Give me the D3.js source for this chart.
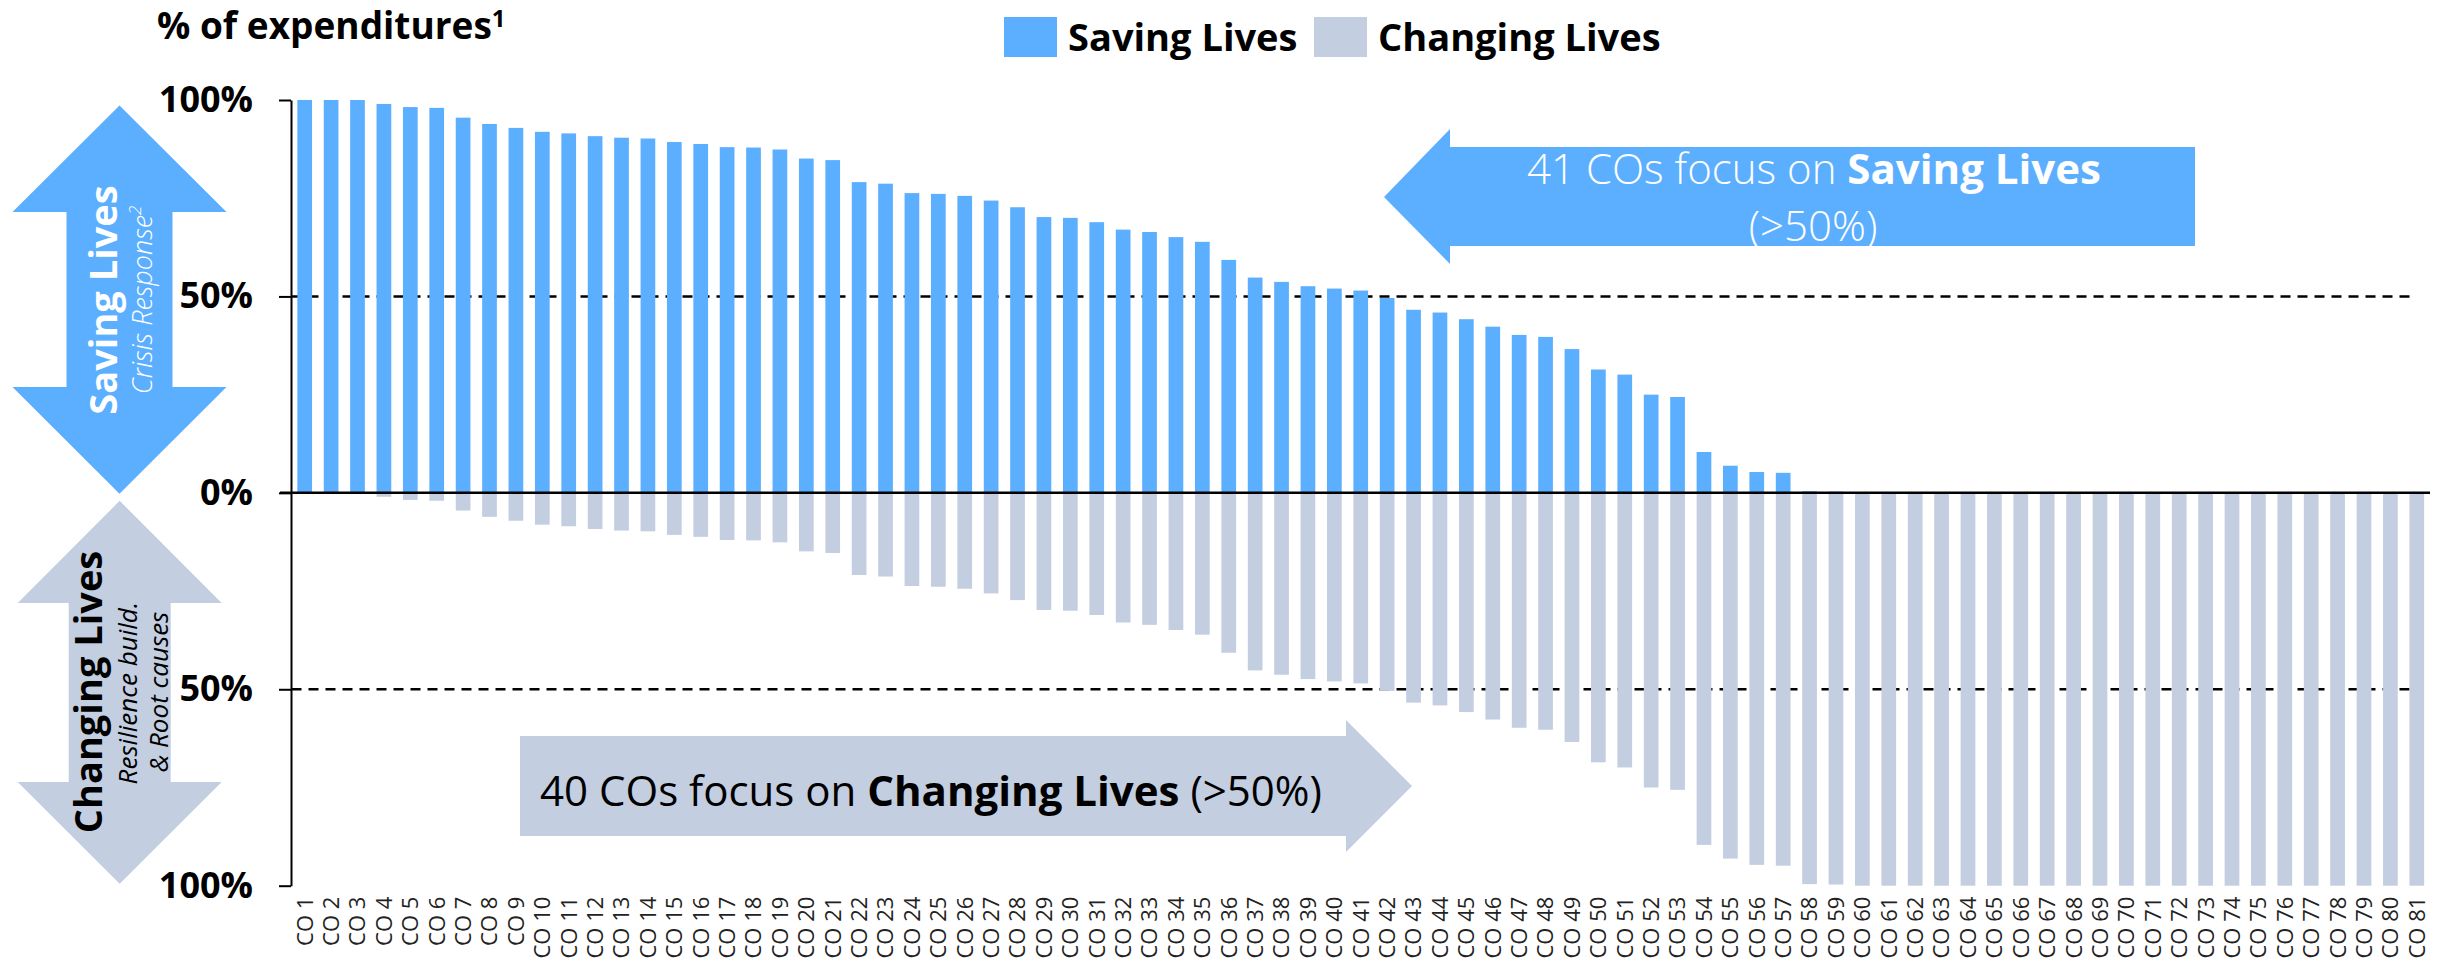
<!DOCTYPE html>
<html>
<head>
<meta charset="utf-8">
<script src="https://cdn.jsdelivr.net/npm/d3@7"></script>
<style>
  body { margin: 0; background: #fff; }
  svg { display: block; font-family: "Open Sans", sans-serif; }
</style>
</head>
<body>
<div id="chart-area"></div>
<script>
// Country offices
const labels = d3.range(1, 82).map((i) => "CO " + i);

// % of expenditures on Saving Lives (crisis response)
const savingLives = [
	100, 100, 100, 99.0, 98.2, 98.0, 95.5, 93.9, 92.9, 91.9,
	91.5, 90.8, 90.4, 90.2, 89.3, 88.8, 88.0, 87.9, 87.4, 85.1,
	84.7, 79.1, 78.7, 76.3, 76.1, 75.6, 74.4, 72.7, 70.2, 70.0,
	68.9, 67.0, 66.4, 65.1, 63.9, 59.3, 54.8, 53.7, 52.6, 52.0,
	51.5, 49.6, 46.6, 45.9, 44.2, 42.3, 40.2, 39.7, 36.6, 31.4,
	30.1, 25.0, 24.4, 10.4, 6.9, 5.3, 5.1, 0.4, 0.3, 0,
	0, 0, 0, 0, 0, 0, 0, 0, 0, 0,
	0, 0, 0, 0, 0, 0, 0, 0, 0, 0,
	0
];

// % of expenditures on Changing Lives (resilience / root causes)
const changingLives = [
	0, 0, 0, 1.0, 1.8, 2.0, 4.5, 6.1, 7.1, 8.1,
	8.5, 9.2, 9.6, 9.8, 10.7, 11.2, 12.0, 12.1, 12.6, 14.9,
	15.3, 20.9, 21.3, 23.7, 23.9, 24.4, 25.6, 27.3, 29.8, 30.0,
	31.1, 33.0, 33.6, 34.9, 36.1, 40.7, 45.2, 46.3, 47.4, 48.0,
	48.5, 50.4, 53.4, 54.1, 55.8, 57.7, 59.8, 60.3, 63.4, 68.6,
	69.9, 75.0, 75.6, 89.6, 93.1, 94.7, 94.9, 99.6, 99.7, 100,
	100, 100, 100, 100, 100, 100, 100, 100, 100, 100,
	100, 100, 100, 100, 100, 100, 100, 100, 100, 100,
	100
];

const yTicks = [100, 50, 0, -50, -100];
const seriesNames = ["Saving Lives", "Changing Lives"];
const seriesColors = ["#5caffe", "#c3cee1"];

const focusChart = () => {
	let width = 2440;
	let height = 963;

	let svg = d3.select("#chart-area")
		.append("svg")
			.attr("width", width)
			.attr("height", height);

	// X scale
	let x = d3.scaleBand()
		.domain(labels)
		.range([291.5, 2430])
		.paddingInner(0.443)
		.paddingOuter(0.2215);

	// Y scale (saving up, changing down)
	let y = d3.scaleLinear()
		.domain([-100, 100])
		.range([885.7, 100]);

	// Dashed 50% lines
	svg.selectAll(".half-line")
		.data([50, -50])
		.enter()
		.append("line")
			.attr("class", "half-line")
			.attr("x1", x.range()[0])
			.attr("x2", 2415)
			.attr("y1", (d) => y(d))
			.attr("y2", (d) => y(d))
			.attr("stroke", "#000")
			.attr("stroke-width", 2.5)
			.attr("stroke-dasharray", "10,7");

	// Saving Lives bars
	svg.selectAll(".saving")
		.data(savingLives)
		.enter()
		.append("rect")
			.attr("class", "saving")
			.attr("x", (d, i) => x(labels[i]))
			.attr("width", x.bandwidth())
			.attr("y", (d) => y(d))
			.attr("height", (d) => y(0) - y(d))
			.attr("fill", seriesColors[0]);

	// Changing Lives bars
	svg.selectAll(".changing")
		.data(changingLives)
		.enter()
		.append("rect")
			.attr("class", "changing")
			.attr("x", (d, i) => x(labels[i]))
			.attr("width", x.bandwidth())
			.attr("y", y(0))
			.attr("height", (d) => y(-d) - y(0))
			.attr("fill", seriesColors[1]);

	// Zero line
	svg.append("line")
		.attr("x1", 280)
		.attr("x2", 2430)
		.attr("y1", y(0))
		.attr("y2", y(0))
		.attr("stroke", "#000")
		.attr("stroke-width", 2.5);

	// Y axis
	let yAxis = d3.axisLeft(y)
		.tickValues(yTicks)
		.tickSize(12)
		.tickSizeOuter(0)
		.tickPadding(26)
		.tickFormat((d) => Math.abs(d) + "%");
	let yG = svg.append("g")
		.attr("class", "left-axis")
		.attr("transform", "translate(291,0)")
		.call(yAxis);
	yG.select(".domain").attr("stroke", "#000").attr("stroke-width", 2);
	yG.selectAll(".tick line").attr("stroke", "#000").attr("stroke-width", 2);
	yG.selectAll(".tick text")
		.attr("fill", "#000")
		.attr("font-family", "Open Sans, sans-serif")
		.attr("font-weight", "bold")
		.attr("font-size", "36px");

	// X axis labels
	let xAxis = d3.axisBottom(x).tickSize(0);
	let xG = svg.append("g")
		.attr("class", "bot-axis")
		.attr("transform", "translate(0," + y(-100) + ")")
		.call(xAxis);
	xG.select(".domain").remove();
	xG.selectAll(".tick text")
		.attr("transform", "rotate(-90)")
		.attr("x", -11)
		.attr("y", 0)
		.attr("dy", "0.36em")
		.attr("text-anchor", "end")
		.attr("fill", "#222")
		.attr("font-family", "Open Sans, sans-serif")
		.attr("font-size", "22px");

	// Title
	let title = svg.append("text")
		.attr("x", 157)
		.attr("y", 39)
		.attr("font-size", "37px")
		.attr("font-weight", "bold")
		.text("% of expenditures");
	title.append("tspan")
		.attr("dy", -12)
		.attr("font-size", "24px")
		.text("1");

	// Legend
	let legend = svg.append("g");
	let legendX = [1004, 1314];
	seriesNames.forEach((name, i) => {
		let row = legend.append("g")
			.attr("transform", "translate(" + legendX[i] + ",17)");
		row.append("rect")
			.attr("width", 53)
			.attr("height", 40)
			.attr("fill", seriesColors[i]);
		row.append("text")
			.attr("x", 64)
			.attr("y", 34)
			.attr("font-size", "38px")
			.attr("font-weight", "bold")
			.text(name);
	});

	let line = d3.line();

	// Left double arrows
	const doubleArrow = (cx, headHalf, shaftHalf, yTop, yHeadTop, yHeadBot, yBot) => [
		[cx, yTop], [cx + headHalf, yHeadTop], [cx + shaftHalf, yHeadTop], [cx + shaftHalf, yHeadBot],
		[cx + headHalf, yHeadBot], [cx, yBot], [cx - headHalf, yHeadBot], [cx - shaftHalf, yHeadBot],
		[cx - shaftHalf, yHeadTop], [cx - headHalf, yHeadTop]
	];
	svg.append("path")
		.attr("d", line(doubleArrow(119.5, 107, 53, y(98.6), 212, 387, y(0) + 1)) + "Z")
		.attr("fill", seriesColors[0]);
	svg.append("path")
		.attr("d", line(doubleArrow(119.7, 102, 51, y(0) + 8, 603, 782, y(-100) - 2)) + "Z")
		.attr("fill", seriesColors[1]);

	let savingLabel = svg.append("g").attr("fill", "#fff");
	savingLabel.append("text")
		.attr("transform", "translate(117,300) rotate(-90)")
		.attr("text-anchor", "middle")
		.attr("font-size", "38px")
		.attr("font-weight", "bold")
		.text("Saving Lives");
	let crisis = savingLabel.append("text")
		.attr("transform", "translate(152,300) rotate(-90)")
		.attr("text-anchor", "middle")
		.attr("font-size", "27px")
		.attr("font-style", "italic")
		.attr("font-weight", 300)
		.text("Crisis Response");
	crisis.append("tspan")
		.attr("dy", -11)
		.attr("font-size", "17px")
		.text("2");

	let changingLabel = svg.append("g").attr("fill", "#000");
	changingLabel.append("text")
		.attr("transform", "translate(102,692) rotate(-90)")
		.attr("text-anchor", "middle")
		.attr("font-size", "38px")
		.attr("font-weight", "bold")
		.text("Changing Lives");
	changingLabel.append("text")
		.attr("transform", "translate(137,693) rotate(-90)")
		.attr("text-anchor", "middle")
		.attr("font-size", "26px")
		.attr("font-style", "italic")
		.text("Resilience build.");
	changingLabel.append("text")
		.attr("transform", "translate(168,692) rotate(-90)")
		.attr("text-anchor", "middle")
		.attr("font-size", "26px")
		.attr("font-style", "italic")
		.text("& Root causes");

	// Callout: Saving Lives (left-pointing arrow)
	svg.append("path")
		.attr("d", line([[1384, 197], [1450, 129], [1450, 147], [2195, 147], [2195, 246],
			[1450, 246], [1450, 264]]) + "Z")
		.attr("fill", seriesColors[0]);
	let c1 = svg.append("text")
		.attr("y", 184)
		.attr("text-anchor", "middle")
		.attr("fill", "#fff")
		.attr("font-size", "42px")
		.attr("font-weight", 300);
	c1.append("tspan").attr("x", 1814).text("41 COs focus on ");
	c1.append("tspan").attr("font-weight", "bold").text("Saving Lives");
	c1.append("tspan").attr("x", 1813).attr("dy", 57).text("(>50%)");

	// Callout: Changing Lives (right-pointing arrow)
	svg.append("path")
		.attr("d", line([[520, 736], [1346, 736], [1346, 720], [1412, 786], [1346, 852],
			[1346, 836], [520, 836]]) + "Z")
		.attr("fill", seriesColors[1]);
	let c2 = svg.append("text")
		.attr("x", 931)
		.attr("y", 806)
		.attr("text-anchor", "middle")
		.attr("fill", "#000")
		.attr("font-size", "42px")
		.text("40 COs focus on ");
	c2.append("tspan").attr("font-weight", "bold").text("Changing Lives");
	c2.append("tspan").text(" (>50%)");
};

focusChart();
</script>
</body>
</html>
